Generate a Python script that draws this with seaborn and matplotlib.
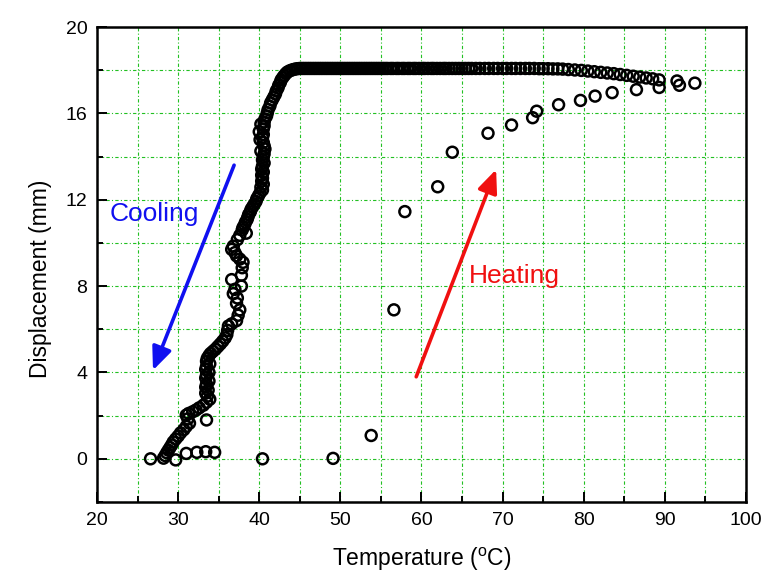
import matplotlib
matplotlib.use("Agg")
import matplotlib.pyplot as plt
import seaborn as sns
import pandas as pd

# cooling run, plateau from the hot end towards the transformation
cooling_plateau = [
    (91.5, 17.50), (89.3, 17.55), (88.5, 17.60), (87.7, 17.64), (86.9, 17.68),
    (86.1, 17.72), (85.3, 17.76), (84.5, 17.80), (83.7, 17.84), (82.9, 17.87),
    (82.1, 17.90), (81.3, 17.93), (80.5, 17.96), (79.7, 17.99), (78.9, 18.01),
    (78.1, 18.03), (77.4, 18.05), (76.8, 18.06), (76.2, 18.06), (75.6, 18.07),
    (75.0, 18.07), (74.5, 18.07), (73.9, 18.08), (73.3, 18.08), (72.8, 18.08),
    (72.2, 18.08), (71.6, 18.08), (71.1, 18.08), (70.5, 18.08), (70.0, 18.08),
    (69.4, 18.08), (68.9, 18.08), (68.3, 18.08), (67.8, 18.08), (67.2, 18.08),
    (66.7, 18.08), (66.2, 18.08), (65.8, 18.08), (65.4, 18.08), (65.0, 18.08),
    (64.6, 18.08), (64.2, 18.08), (63.8, 18.08), (63.4, 18.08), (63.0, 18.08),
    (62.7, 18.08), (62.3, 18.08), (61.9, 18.08), (61.5, 18.08), (61.2, 18.08),
    (60.8, 18.08), (60.4, 18.08), (60.1, 18.08), (59.7, 18.08), (59.3, 18.08),
    (59.0, 18.08), (58.6, 18.08), (58.3, 18.08), (57.9, 18.08), (57.6, 18.08),
    (57.2, 18.08), (56.9, 18.08), (56.5, 18.08), (56.2, 18.08), (55.8, 18.08),
    (55.5, 18.08), (55.2, 18.08), (54.9, 18.08), (54.6, 18.08), (54.3, 18.08),
    (54.0, 18.08), (53.7, 18.08), (53.4, 18.08), (53.1, 18.08), (52.8, 18.08),
    (52.5, 18.08), (52.2, 18.08), (51.9, 18.08), (51.6, 18.08), (51.3, 18.08),
    (51.0, 18.08), (50.7, 18.08), (50.4, 18.08), (50.1, 18.08), (49.8, 18.08),
    (49.5, 18.08), (49.2, 18.08), (48.9, 18.08), (48.6, 18.08), (48.3, 18.08),
    (48.0, 18.08), (47.7, 18.08), (47.4, 18.08), (47.1, 18.08), (46.8, 18.08),
    (46.5, 18.08), (46.2, 18.08), (45.9, 18.08), (45.6, 18.08), (45.3, 18.08),
    (45.0, 18.08),
]

# cooling run, drop of displacement during the martensitic transformation
cooling_drop = [
    (44.7, 18.07), (44.4, 18.05), (44.1, 18.02), (43.8, 17.98), (43.5, 17.92),
    (43.3, 17.85), (43.1, 17.76), (42.9, 17.66), (42.7, 17.55), (42.6, 17.43),
    (42.4, 17.30), (42.3, 17.17), (42.1, 17.04), (42.0, 16.90), (41.8, 16.76),
    (41.6, 16.62), (41.4, 16.48), (41.3, 16.33), (41.1, 16.18), (41.0, 16.03),
    (40.9, 15.88), (40.7, 15.74), (40.6, 15.60), (40.2, 15.50), (40.6, 15.42),
    (40.5, 15.28), (40.0, 15.15), (40.5, 15.02), (40.4, 14.88), (40.1, 14.78),
    (40.5, 14.65), (40.6, 14.50), (40.7, 14.35), (40.2, 14.25), (40.6, 14.12),
    (40.5, 13.98), (40.4, 13.84), (40.6, 13.70), (40.4, 13.56), (40.3, 13.42),
    (40.5, 13.28), (40.3, 13.14), (40.4, 13.00), (40.3, 12.86), (40.5, 12.72),
    (40.2, 12.58), (40.4, 12.45), (40.1, 12.32), (39.9, 12.18), (39.7, 12.05),
    (39.6, 11.92), (39.4, 11.80), (39.2, 11.68), (39.0, 11.56), (38.9, 11.44),
    (38.7, 11.32), (38.6, 11.20), (38.5, 11.08), (38.3, 10.96), (38.2, 10.84),
    (38.0, 10.72), (37.9, 10.60), (38.4, 10.45), (37.6, 10.35), (37.3, 10.15),
    (36.8, 9.85), (36.6, 9.70), (37.0, 9.55), (37.2, 9.40), (37.6, 9.25),
    (38.0, 9.10), (37.9, 8.85), (37.8, 8.50), (36.6, 8.30), (37.8, 8.00),
    (37.0, 7.85), (36.8, 7.65), (37.3, 7.45), (37.2, 7.20), (37.6, 6.90),
    (37.4, 6.65), (37.2, 6.40), (36.6, 6.25), (36.2, 6.15), (36.1, 5.95),
    (36.0, 5.75), (35.8, 5.60), (35.5, 5.45), (35.2, 5.32), (34.9, 5.20),
    (34.6, 5.08), (34.3, 4.98), (34.0, 4.88), (33.8, 4.78), (33.6, 4.66),
    (33.5, 4.52), (33.9, 4.40), (33.5, 4.28), (33.4, 4.14), (33.8, 4.00),
    (33.5, 3.88), (33.4, 3.74), (33.8, 3.60), (33.5, 3.46), (33.4, 3.32),
    (33.7, 3.18), (33.4, 3.04), (33.6, 2.90), (33.9, 2.76), (33.5, 2.62),
    (33.1, 2.48), (32.6, 2.36), (32.2, 2.26), (31.8, 2.18), (31.3, 2.10),
    (31.0, 2.02), (31.2, 1.85), (31.4, 1.65), (33.5, 1.80), (31.0, 1.50),
    (30.7, 1.35), (30.3, 1.20), (30.0, 1.05), (29.7, 0.92), (29.4, 0.78),
    (29.2, 0.64), (29.0, 0.52), (28.8, 0.40), (28.6, 0.28), (28.4, 0.15),
    (28.2, 0.03),
]

# heating run
heating = [
    (26.6, 0.00), (29.7, -0.05), (31.0, 0.25), (32.3, 0.30), (33.4, 0.33),
    (34.5, 0.30), (40.4, 0.00), (49.1, 0.02), (53.8, 1.08), (56.6, 6.90),
    (57.95, 11.45), (62.0, 12.60), (63.8, 14.20), (68.2, 15.08), (71.1, 15.46),
    (73.7, 15.80), (74.2, 16.10), (76.9, 16.40), (79.6, 16.60), (81.4, 16.80),
    (83.5, 16.96), (86.5, 17.10), (89.3, 17.20), (91.8, 17.30), (93.7, 17.40),
]

x_major = [20, 30, 40, 50, 60, 70, 80, 90, 100]
x_minor = [25, 35, 45, 55, 65, 75, 85, 95]
y_major = [0, 4, 8, 12, 16, 20]
y_minor = [-2, 2, 6, 10, 14, 18]

sns.set_style("ticks")
plt.rcParams["font.family"] = ["Liberation Sans", "DejaVu Sans"]
plt.rcParams["mathtext.fontset"] = "custom"
plt.rcParams["mathtext.rm"] = "Liberation Sans"

rows = ([("cooling", x, y) for x, y in cooling_plateau + cooling_drop]
        + [("heating", x, y) for x, y in heating])
df = pd.DataFrame(rows, columns=["run", "temperature", "displacement"])

fig = plt.figure(figsize=(7.83, 5.77), dpi=100)
ax = fig.add_axes([0.1239, 0.130, 0.8288, 0.8232])

sns.scatterplot(data=df, x="temperature", y="displacement", ax=ax,
                marker="o", s=62, facecolors="none", edgecolor="black",
                linewidth=1.8, legend=False, zorder=3)

ax.set_xlim(20, 100)
ax.set_ylim(-2, 20)
ax.set_xticks(x_major)
ax.set_xticks(x_minor, minor=True)
ax.set_yticks(y_major)
ax.set_yticks(y_minor, minor=True)
ax.tick_params(which="major", direction="in", length=7.5, width=1.4,
               labelsize=14, pad=7, top=False, right=False,
               color="black", labelcolor="black")
ax.tick_params(which="minor", direction="in", length=4.5, width=1.4,
               top=False, right=False, color="black")
for s in ax.spines.values():
    s.set_linewidth(1.8)
    s.set_color("black")

ax.grid(which="both", color="#22c022", linestyle=(0, (3, 2, 1, 2)), linewidth=0.8)
ax.set_axisbelow(True)

ax.set_xlabel(r"Temperature ($^{\mathrm{o}}$C)", fontsize=16.5, color="black")
ax.set_ylabel("Displacement (mm)", fontsize=16.5, color="black")
ax.xaxis.set_label_coords(0.5, -0.092)
ax.yaxis.set_label_coords(-0.069, 0.469)

ax.annotate("", xy=(26.9, 4.1), xytext=(36.9, 13.6),
            arrowprops=dict(arrowstyle="-|>,head_length=0.7,head_width=0.3",
                            color="#1010f0", lw=2.6, mutation_scale=20,
                            shrinkA=0, shrinkB=0))
ax.annotate("", xy=(69.2, 13.4), xytext=(59.35, 3.8),
            arrowprops=dict(arrowstyle="-|>,head_length=0.7,head_width=0.3",
                            color="#f01010", lw=2.6, mutation_scale=20,
                            shrinkA=0, shrinkB=0))
ax.text(21.6, 11.35, "Cooling", color="#1010f0", fontsize=19, va="center", ha="left")
ax.text(65.9, 8.45, "Heating", color="#f01010", fontsize=19, va="center", ha="left")

fig.savefig("out.png", dpi=100)
